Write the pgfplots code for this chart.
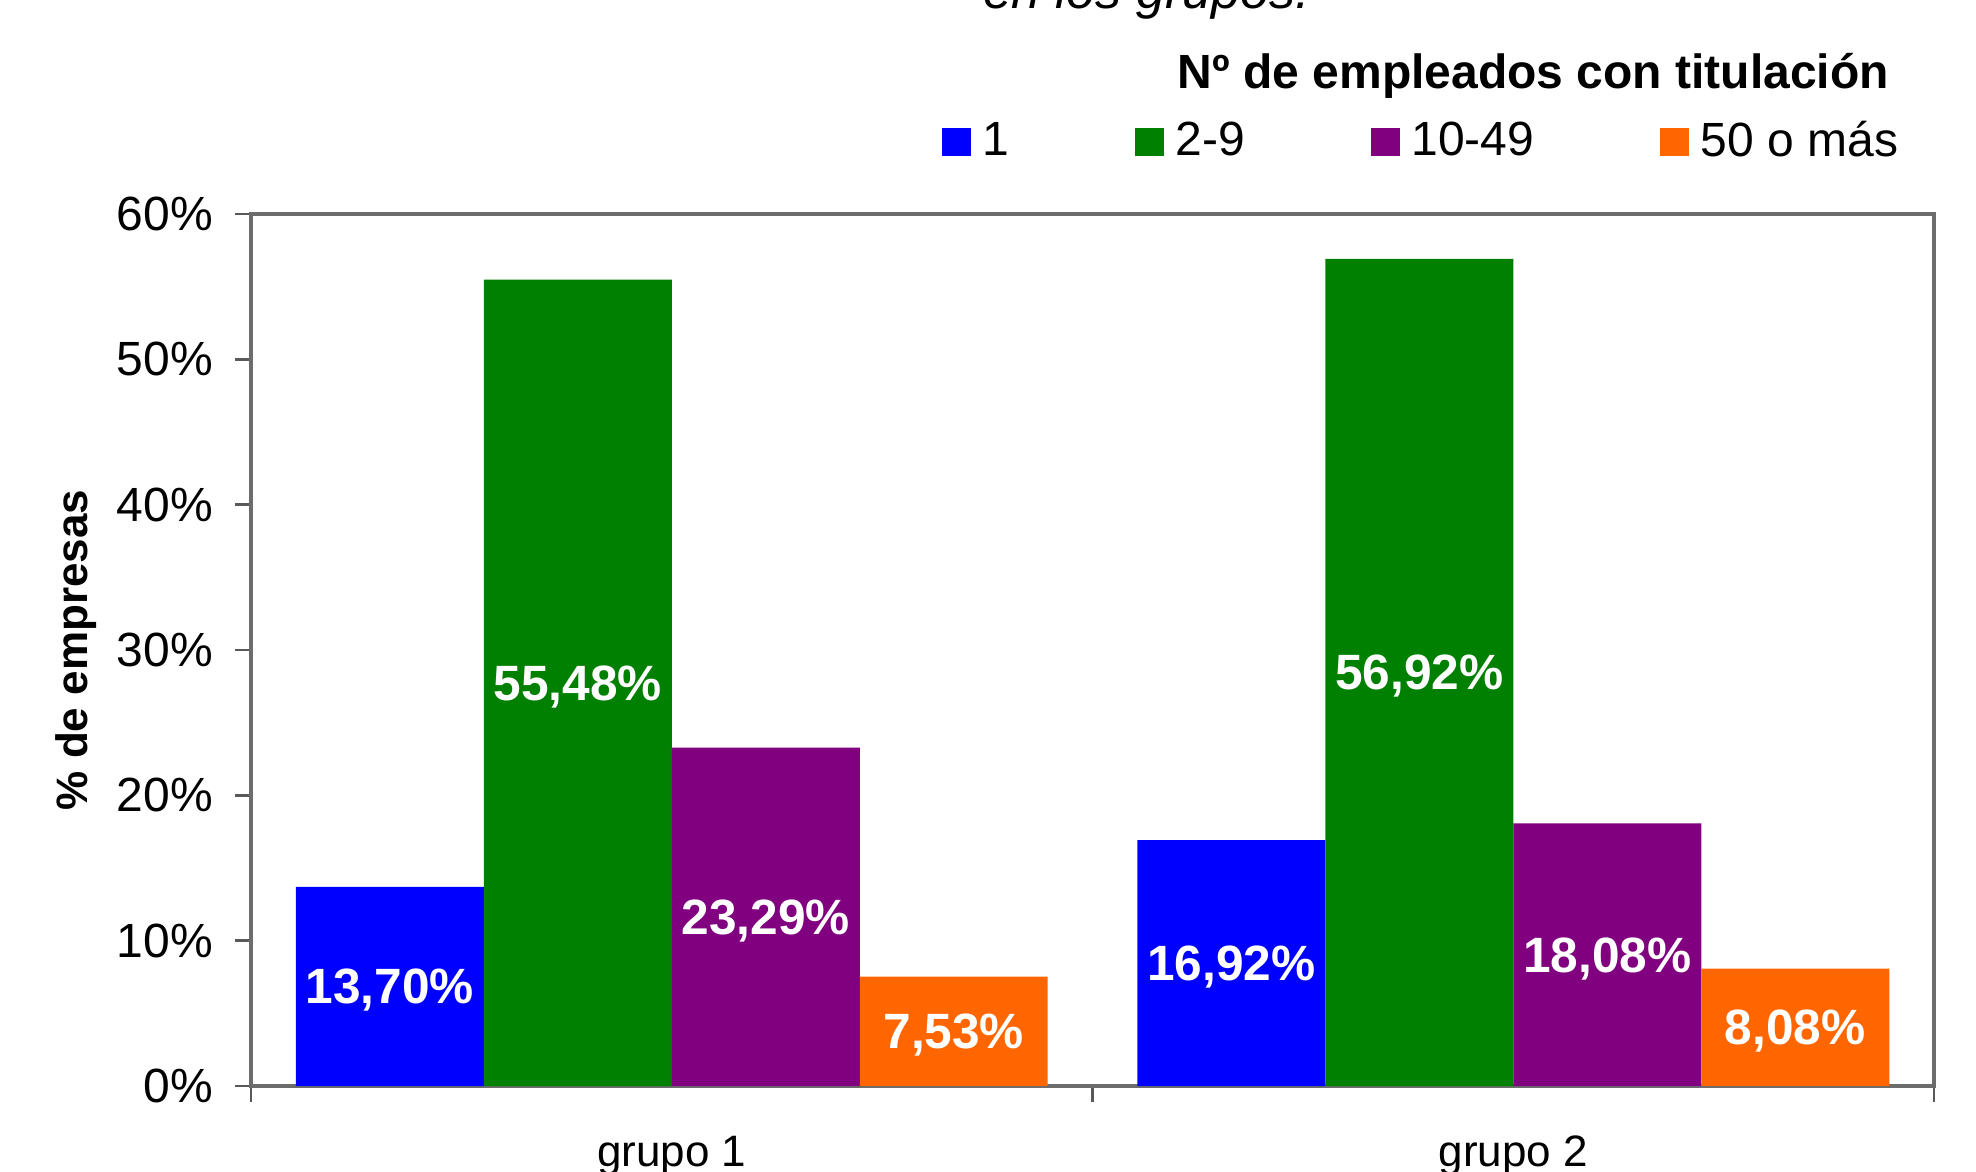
\documentclass[border=0pt]{standalone}
\usepackage{fontspec}
\setmainfont{Liberation Sans}
\usepackage{pgfplots}
\pgfplotsset{compat=1.18}
\definecolor{cblue}{HTML}{0000FF}
\definecolor{cgreen}{HTML}{008000}
\definecolor{cpurple}{HTML}{800080}
\definecolor{corange}{HTML}{FF6600}
\newcommand{\fs}[1]{\fontsize{#1}{#1}\selectfont}
\begin{document}
\begin{tikzpicture}
\begin{axis}[
  at={(0,0)}, anchor=south west,
  scale only axis, width=420.75pt, height=218pt,
  clip=false,
  ybar=0pt, bar width=0.2234,
  xmin=-0.5, xmax=1.5, ymin=0, ymax=60,
  /pgf/number format/assume math mode=true,
  xtick pos=bottom, ytick pos=left,
  xtick={-0.5,0.5,1.5}, xticklabels={},
  extra x ticks={0,1}, extra x tick labels={grupo 1,grupo 2},
  extra x tick style={major tick length=0pt, xticklabel style={anchor=base, yshift=-20pt, font=\fs{11}}},
  ytick={0,10,...,60},
  yticklabel={\pgfmathprintnumber{\tick}\%},
  yticklabel style={font=\fs{12}, xshift=-2pt},
  tick align=outside, major tick length=4pt,
  tick style={gray!70!black, line width=0.6pt},
  axis line style={gray!85!black, line width=0.8pt},
  ylabel={\% de empresas},
  every axis y label/.style={at={(axis description cs:0,0.5)}, xshift=-43.75pt, rotate=90, anchor=center, font=\fs{11}\bfseries},
  legend columns=4,
  legend style={at={(0.41,1)}, anchor=west, yshift=18pt, draw=none, fill=none, inner sep=0pt,
    font=\fs{12}, nodes={inner sep=0pt},
    /tikz/every odd column/.append style={column sep=3pt},
    /tikz/every even column/.append style={column sep=31.4pt}},
  legend image code/.code={\fill[#1] (0pt,-3.6pt) rectangle (7.2pt,3.6pt);},
  visualization depends on={y \as \rawy},
  nodes near coords={\pgfmathprintnumber[fixed,fixed zerofill,precision=2,use comma]{\pgfplotspointmeta}\%},
  every node near coord/.append style={font=\fs{12.4}\bfseries, text=white, anchor=center, shift={(axis direction cs:0,-\rawy/2)}, yshift=-1pt},
]
\addplot[fill=cblue, draw=none] coordinates {(0,13.70) (1,16.92)};
\addplot[fill=cgreen, draw=none] coordinates {(0,55.48) (1,56.92)};
\addplot[fill=cpurple, draw=none] coordinates {(0,23.29) (1,18.08)};
\addplot[fill=corange, draw=none] coordinates {(0,7.53) (1,8.08)};
\legend{1,2-9,10-49,50 o más}
\node[anchor=base, yshift=31.5pt, font=\fs{12}\bfseries] at (rel axis cs:0.762,1) {Nº de empleados con titulación};
\node[anchor=base, yshift=51.5pt, font=\fs{13}\itshape] at (rel axis cs:0.532,1) {en los grupos.};
\end{axis}
\pgfresetboundingbox
\path[use as bounding box] (-62.75pt,-21.25pt) rectangle (431.25pt,271.5pt);
\end{tikzpicture}
\end{document}
